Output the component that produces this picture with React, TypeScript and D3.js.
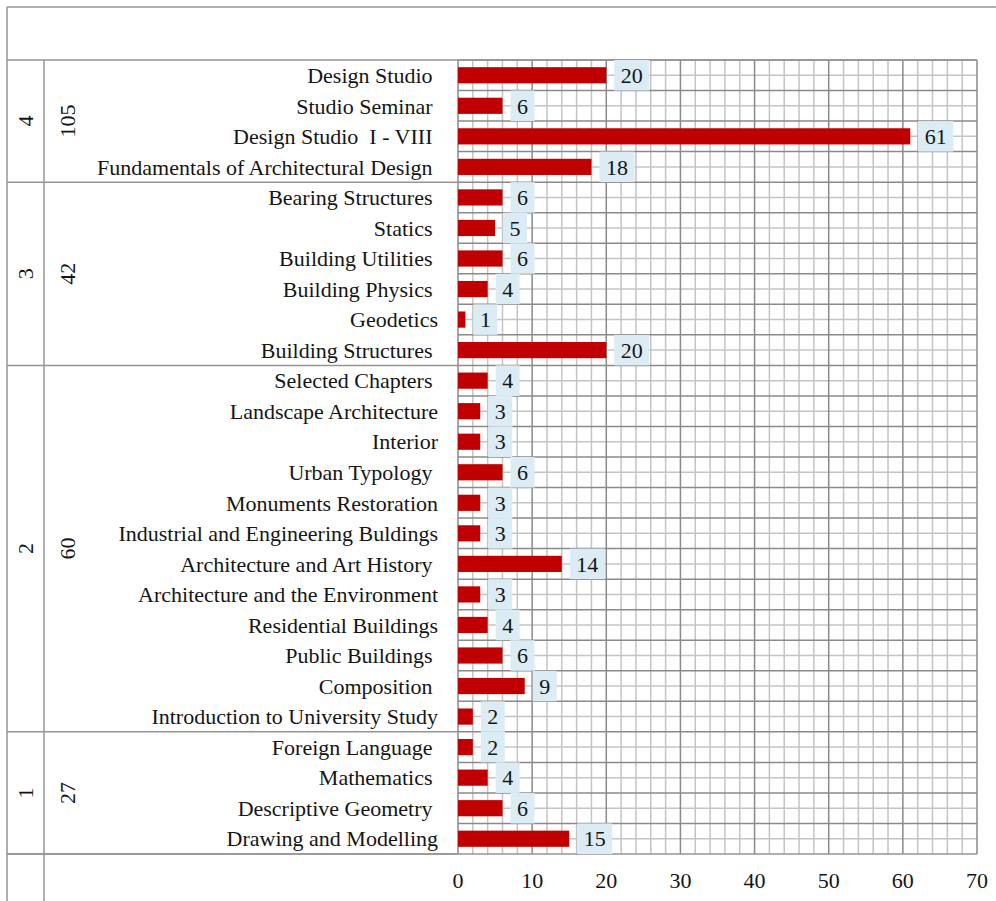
import React from 'react';
import * as d3 from 'd3';

// groups (top to bottom) with their totals
const groupIds = ['4', '3', '2', '1'];
const groupTotals = [105, 42, 60, 27];

// courses per group, trailing spaces kept as in the source table
const group4Courses = ['Design Studio ', 'Studio Seminar ', 'Design Studio  I - VIII ', 'Fundamentals of Architectural Design '];
const group4Values = [20, 6, 61, 18];
const group3Courses = ['Bearing Structures ', 'Statics ', 'Building Utilities ', 'Building Physics ', 'Geodetics', 'Building Structures '];
const group3Values = [6, 5, 6, 4, 1, 20];
const group2Courses = [
    'Selected Chapters ', 'Landscape Architecture', 'Interior', 'Urban Typology ', 'Monuments Restoration',
    'Industrial and Engineering Buldings', 'Architecture and Art History ', 'Architecture and the Environment',
    'Residential Buildings', 'Public Buildings ', 'Composition ', 'Introduction to University Study',
];
const group2Values = [4, 3, 3, 6, 3, 3, 14, 3, 4, 6, 9, 2];
const group1Courses = ['Foreign Language ', 'Mathematics ', 'Descriptive Geometry ', 'Drawing and Modelling'];
const group1Values = [2, 4, 6, 15];

const xTicks = [0, 10, 20, 30, 40, 50, 60, 70];

const W = 996;
const H = 901;
const left = 7;
const top = 7;
const headerBottom = 60;
const col1 = 44;
const plotLeft = 458;
const plotRight = 977;
const plotBottom = 854;
const font = '"Liberation Serif", "Times New Roman", serif';
const fs = 22;

const App: React.FC = () => {
    const courseGroups = [group4Courses, group3Courses, group2Courses, group1Courses];
    const valueGroups = [group4Values, group3Values, group2Values, group1Values];
    const courses = courseGroups.flat();
    const values = valueGroups.flat();
    const idx = courses.map((_, i) => i);

    const x = d3.scaleLinear().domain([0, 70]).range([plotLeft, plotRight]);
    const y = d3.scaleBand<number>().domain(idx).range([headerBottom, plotBottom]).padding(0);
    const bw = y.bandwidth();
    const barH = bw * 0.53;

    // group spans
    let start = 0;
    const spans = courseGroups.map(g => {
        const s = { y0: y(start) as number, y1: (y(start + g.length - 1) as number) + bw };
        start += g.length;
        return s;
    });

    const minorX = d3.range(0, 71, 2).filter(v => v % 10 !== 0);
    const majorX = xTicks;

    const minorCol = '#c4c4c4';
    const majorCol = '#8a8a8a';
    const tableCol = '#959595';
    const ink = '#151515';

    return (
        <svg width={W} height={H} style={{ position: 'absolute', left: 0, top: 0, background: '#fff' }} fontFamily={font}>
            {/* grid: minor lines */}
            {minorX.map(v => (
                <line key={'mx' + v} x1={x(v)} x2={x(v)} y1={headerBottom} y2={plotBottom} stroke={minorCol} strokeWidth={1.5} />
            ))}
            {idx.map(i => (
                <line key={'my' + i} x1={plotLeft} x2={plotRight} y1={(y(i) as number) + bw / 2} y2={(y(i) as number) + bw / 2} stroke={minorCol} strokeWidth={1.5} />
            ))}
            {/* grid: major lines */}
            {majorX.map(v => (
                <line key={'Mx' + v} x1={x(v)} x2={x(v)} y1={headerBottom} y2={plotBottom} stroke={majorCol} strokeWidth={1.5} />
            ))}
            {idx.map(i => (
                <line key={'My' + i} x1={plotLeft} x2={plotRight} y1={y(i) as number} y2={y(i) as number} stroke={majorCol} strokeWidth={1.5} />
            ))}

            {/* table frame */}
            <line x1={left} x2={W} y1={top} y2={top} stroke={tableCol} strokeWidth={1.5} />
            <line x1={left} x2={left} y1={top} y2={H} stroke={tableCol} strokeWidth={1.5} />
            <line x1={left} x2={plotRight} y1={headerBottom} y2={headerBottom} stroke={tableCol} strokeWidth={1.5} />
            <line x1={col1} x2={col1} y1={headerBottom} y2={H} stroke={tableCol} strokeWidth={1.5} />
            {spans.map((s, i) => (
                <line key={'gs' + i} x1={left} x2={plotLeft} y1={s.y1} y2={s.y1} stroke={tableCol} strokeWidth={1.5} />
            ))}
            <line x1={left} x2={plotRight} y1={plotBottom} y2={plotBottom} stroke={tableCol} strokeWidth={1.5} />

            {/* group number and total */}
            {spans.map((s, i) => {
                const cy = (s.y0 + s.y1) / 2;
                return (
                    <g key={'gl' + i} fontSize={fs} fill={ink}>
                        <text transform={`translate(${(left + col1) / 2},${cy}) rotate(-90)`} textAnchor="middle" dy="0.35em">{groupIds[i]}</text>
                        <text transform={`translate(67,${cy}) rotate(-90)`} textAnchor="middle" dy="0.35em">{groupTotals[i]}</text>
                    </g>
                );
            })}

            {/* course labels */}
            {idx.map(i => (
                <text key={'cl' + i} x={438} y={(y(i) as number) + bw / 2} dy="0.35em" textAnchor="end" fontSize={fs} fill={ink} style={{ whiteSpace: 'pre' }}>
                    {courses[i]}
                </text>
            ))}

            {/* bars */}
            {idx.map(i => (
                <rect key={'b' + i} x={x(0)} y={(y(i) as number) + (bw - barH) / 2} width={x(values[i]) - x(0)} height={barH} fill="#c00000" />
            ))}

            {/* value labels */}
            {idx.map(i => {
                const txt = String(values[i]);
                const tw = txt.length * fs * 0.5;
                const bx = x(values[i]) + 8;
                const boxW = tw + 13;
                return (
                    <g key={'v' + i}>
                        <rect x={bx} y={y(i) as number} width={boxW} height={bw} fill="#dbecf4" />
                        <text x={bx + boxW / 2} y={(y(i) as number) + bw / 2} dy="0.35em" textAnchor="middle" fontSize={fs} fill={ink}>{txt}</text>
                    </g>
                );
            })}

            {/* x axis tick labels */}
            {xTicks.map(t => (
                <text key={'t' + t} x={x(t)} y={880} dy="0.35em" textAnchor="middle" fontSize={fs} fill={ink}>{t}</text>
            ))}
        </svg>
    );
};

export default App;
